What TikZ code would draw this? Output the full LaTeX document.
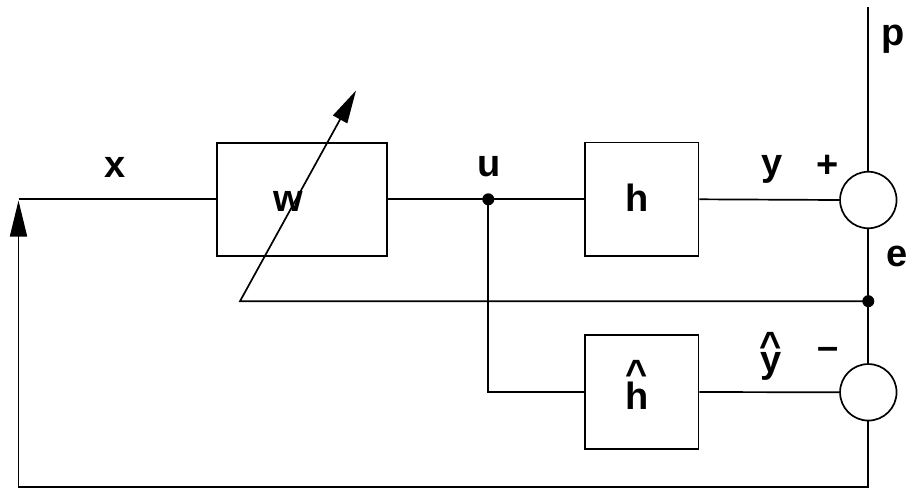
\documentclass[tikz,border=0pt]{standalone}
\usepackage{fontspec}
\setmainfont{Liberation Sans}
\usetikzlibrary{arrows.meta}
\newcommand\bighat[2]{\ooalign{#1\cr\hidewidth\raisebox{#2}{\textasciicircum}\hidewidth\cr}}
\begin{document}
\begin{tikzpicture}[x=1pt,y=-1pt,line width=1.7pt,
  blk/.style={draw,minimum width=170pt,minimum height=113pt,inner sep=0pt},
  sq/.style={draw,minimum width=113.5pt,minimum height=113.5pt,inner sep=0pt},
  sumc/.style={draw,circle,minimum size=56.5pt,inner sep=0pt},
  lbl/.style={font=\fontsize{38}{40}\selectfont\bfseries,inner sep=0pt,anchor=base},
  dotc/.style={fill,circle,inner sep=0pt,minimum size=12pt},
  tipA/.style={-{Triangle[length=33pt,width=16pt]}},
  tipB/.style={-{Triangle[length=36pt,width=17pt]}}]
\useasboundingbox (0,0) rectangle (911,488);
% blocks
\node[blk] (w) at (301.7,199.3) {};
\node[sq] (h) at (641.8,199.3) {};
\node[sq] (hh) at (641.8,392) {};
\node[sumc] (s1) at (868.3,200) {};
\node[sumc] (s2) at (868.3,392.3) {};
% points
\coordinate (top) at (868.3,7);
\coordinate (xin) at (18.5,199.3);
\coordinate (u) at (488.3,199.3);
\coordinate (ucorner) at (488.3,392);
\coordinate (e) at (868.3,301.2);
\coordinate (wl) at (240,301.2);
\coordinate (wtip) at (356,90.5);
\coordinate (bot) at (868.3,486.8);
\coordinate (botl) at (18.5,486.8);
\coordinate (arr) at (18.5,200.5);
% connectors
\draw (xin) -- (w.west);
\draw (w.east) -- (h.west);
\draw (h.east) -- (s1.west);
\draw (u) -- (ucorner) -- (hh.west);
\draw (hh.east) -- (s2.west);
\draw (top) -- (s1.north);
\draw (s1.south) -- (s2.north);
\draw[tipA] (e) -- (wl) -- (wtip);
\draw[tipB] (s2.south) -- (bot) -- (botl) -- (arr);
\node[dotc] at (u) {};
\node[dotc] at (e) {};
% labels
\node[lbl] (lx) at (115,177.3) {x};
\node[lbl] (lw) at (288,211.7) {w};
\node[lbl] (lu) at (489,176.7) {u};
\node[lbl] (lh) at (636.7,211) {h};
\node[lbl] (lhh) at (636.7,409.3) {\bighat{h}{22.8pt}};
\node[lbl] (ly) at (771.7,175.5) {y};
\node[lbl] (lyh) at (770.7,372.5) {\bighat{y}{13.6pt}};
\node[lbl] (lp) at (892.7,45) {p};
\node[lbl] (le) at (896.7,266.7) {e};
\node[lbl,anchor=center] (lplus) at (828,166.7) {+};
\node[lbl,anchor=center] (lminus) at (828,353) {–};
\end{tikzpicture}
\end{document}
